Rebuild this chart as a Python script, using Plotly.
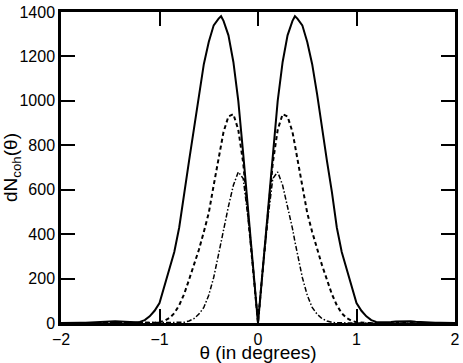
import plotly.graph_objects as go

theta = [-2.00, -1.95, -1.90, -1.85, -1.80, -1.75, -1.70, -1.65, -1.60, -1.55, -1.50, -1.45, -1.40, -1.35, -1.30, -1.25,
         -1.20, -1.15, -1.10, -1.05, -1.00, -0.95, -0.90, -0.85, -0.80, -0.75, -0.70, -0.65, -0.60, -0.55, -0.50,
         -0.45, -0.40, -0.375, -0.35, -0.30, -0.25, -0.20, -0.15, -0.10, -0.05, 0.00,
         0.05, 0.10, 0.15, 0.20, 0.25, 0.30, 0.35, 0.375, 0.40, 0.45, 0.50, 0.55, 0.60, 0.65, 0.70, 0.75, 0.80,
         0.85, 0.90, 0.95, 1.00, 1.05, 1.10, 1.15, 1.20, 1.25, 1.30, 1.35, 1.40, 1.45, 1.50, 1.55, 1.60,
         1.65, 1.70, 1.75, 1.80, 1.85, 1.90, 1.95, 2.00]

solid = [0, 1, 1, 1, 1, 1, 2, 4, 6, 8, 8, 8, 7, 5, 3, 3,
         5, 13, 30, 55, 90, 170, 240, 320, 430, 590, 730, 875, 1030, 1165, 1265,
         1340, 1370, 1381, 1360, 1295, 1175, 1000, 760, 500, 250, 0,
         250, 500, 760, 1000, 1175, 1295, 1360, 1381, 1370, 1340, 1265, 1165, 1030, 875, 730, 590, 430,
         320, 240, 170, 90, 55, 30, 13, 5, 3, 3, 5, 7, 8, 8, 8, 6,
         4, 2, 1, 1, 1, 1, 1, 0]

dashed = [0, 0, 0, 0, 0, 0, 0, 0, 0, 0, 0, 0, 0, 0, 0, 0,
          0, 0, 0, 1, 4, 10, 22, 44, 80, 130, 195, 260, 330, 410, 495,
          620, 740, 800, 860, 930, 940, 870, 720, 480, 250, 0,
          250, 480, 720, 870, 940, 930, 860, 800, 740, 620, 495, 410, 330, 260, 195, 130, 80,
          44, 22, 10, 4, 1, 0, 0, 0, 0, 0, 0, 0, 0, 0, 0, 0,
          0, 0, 0, 0, 0, 0, 0, 0]

dashdot = [0, 0, 0, 0, 0, 0, 0, 0, 0, 0, 0, 0, 0, 0, 0, 0,
           0, 0, 0, 0, 0, 0, 0, 0, 1, 3, 9, 20, 40, 70, 125,
           205, 310, 366, 425, 525, 620, 680, 650, 470, 250, 0,
           250, 470, 650, 680, 620, 525, 425, 366, 310, 205, 125, 70, 40, 20, 9, 3, 1,
           0, 0, 0, 0, 0, 0, 0, 0, 0, 0, 0, 0, 0, 0, 0, 0,
           0, 0, 0, 0, 0, 0, 0, 0]

x_ticks = [-2, -1, 0, 1, 2]
y_ticks = [0, 200, 400, 600, 800, 1000, 1200, 1400]

fig = go.Figure()
fig.add_trace(go.Scatter(x=theta, y=solid, mode="lines",
                         line=dict(color="black", width=2, dash="solid"), showlegend=False))
fig.add_trace(go.Scatter(x=theta, y=dashed, mode="lines",
                         line=dict(color="black", width=2, dash="4px,3px"), showlegend=False))
fig.add_trace(go.Scatter(x=theta, y=dashdot, mode="lines",
                         line=dict(color="black", width=1.5, dash="5px,2px,1.5px,2px"), showlegend=False))

font_family = "Liberation Sans, Arial, Helvetica, sans-serif"
fig.update_layout(
    width=463, height=363,
    margin=dict(l=61, r=8, t=12, b=40),
    paper_bgcolor="white", plot_bgcolor="white",
    font=dict(family=font_family, size=16, color="black"),
    xaxis=dict(range=[-2, 2], tickvals=x_ticks, ticks="inside", ticklen=14, tickwidth=2,
               tickcolor="black", showline=True, linewidth=2.5, linecolor="black",
               mirror="ticks", showgrid=False, zeroline=False, automargin=False,
               title=dict(text="θ (in degrees)", font=dict(size=19), standoff=0),
               tickfont=dict(size=16)),
    yaxis=dict(range=[0, 1400], tickvals=y_ticks, ticks="inside", ticklen=14, tickwidth=2,
               tickcolor="black", showline=True, linewidth=2.5, linecolor="black",
               mirror="ticks", showgrid=False, zeroline=False, automargin=False,
               title=dict(text="dN<sub>coh</sub>(θ)", font=dict(size=19), standoff=2),
               tickfont=dict(size=16)),
)

fig.write_html("out.html", config={"displayModeBar": False},
               post_script="document.body.style.margin='0';document.body.style.overflow='hidden';")
